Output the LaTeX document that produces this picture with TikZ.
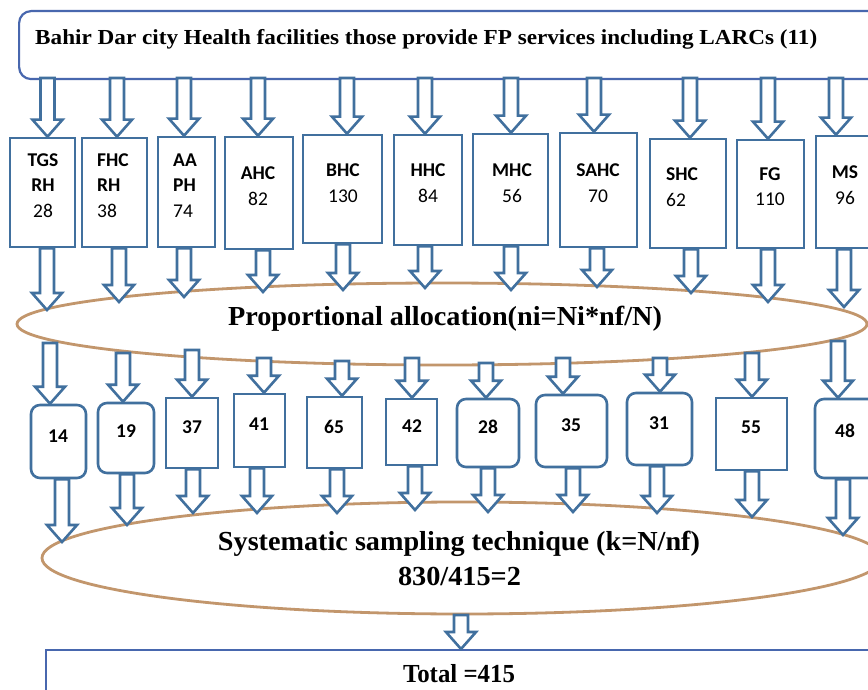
\documentclass[tikz,border=0pt]{standalone}
\usepackage{fontspec}
\setmainfont{Liberation Serif}
\newfontfamily\carl{Carlito}
\usetikzlibrary{shapes.geometric,calc}
\definecolor{arrblue}{HTML}{41709E}
\definecolor{frameblue}{HTML}{4867AE}
\definecolor{elltan}{HTML}{C2966C}
\newcommand{\wfit}[2]{\resizebox{#1}{\height}{#2}}
\tikzset{
  barrow/.style={draw=arrblue, line width=2.6pt, fill=white, line join=miter,
    to path={let \p1=(\tikztostart), \p2=(\tikztotarget) in
      (\x1-7pt,\y1) -- (\x1-7pt,\y2+17pt) -- (\x1-15pt,\y2+17pt) -- (\x1,\y2)
      -- (\x1+15pt,\y2+17pt) -- (\x1+7pt,\y2+17pt) -- (\x1+7pt,\y1) -- cycle}},
  fbox/.style={draw=arrblue, line width=2.6pt, fill=white, inner sep=0pt},
  rbox/.style={fbox, rounded corners=9pt},
  ell/.style={ellipse, draw=elltan, line width=2.8pt, fill=white, inner sep=0pt},
  lbl/.style={font=\carl\fontsize{19.5}{25.5}\selectfont, inner sep=0pt, text=black},
  nlbl/.style={font=\carl\bfseries\fontsize{19.5}{25}\selectfont, inner sep=0pt, text=black},
  serif/.style={font=\bfseries\fontsize{27.5}{30}\selectfont, inner sep=0pt, anchor=base},
}
\begin{document}
\begin{tikzpicture}[x=1pt,y=-1pt]
\useasboundingbox (0,0) rectangle (868,690);
\clip (0,0) rectangle (868,690);
\fill[white] (0,0) rectangle (868,690);

% top box
\node[draw=frameblue, line width=2.2pt, rounded corners=12pt, minimum width=890pt,
      minimum height=68pt, inner sep=0pt, anchor=north west, fill=white] (top) at (18,10) {};
\node[font=\bfseries\fontsize{21.4}{24}\selectfont, inner sep=0pt, anchor=base west] (toptxt) at (35,45)
  {\wfit{782pt}{Bahir Dar city Health facilities those provide FP services including LARCs (11)}};

% ellipses
\node[ell, minimum width=850pt, minimum height=82pt] (e1) at (442,324) {};
\node[ell, minimum width=840pt, minimum height=112pt] (e2) at (462,558) {};

% first row boxes
\node[fbox, minimum width=65pt, minimum height=109pt] (t1) at (42.5,192.5) {};
\node[fbox, minimum width=65pt, minimum height=109pt] (t2) at (114.5,192.5) {};
\node[fbox, minimum width=57pt, minimum height=110pt] (t3) at (186.5,192) {};
\node[fbox, minimum width=68pt, minimum height=112pt] (t4) at (259,193) {};
\node[fbox, minimum width=79pt, minimum height=108pt] (t5) at (342.5,189) {};
\node[fbox, minimum width=68pt, minimum height=110pt] (t6) at (428,190) {};
\node[fbox, minimum width=75pt, minimum height=111pt] (t7) at (510.5,189.5) {};
\node[fbox, minimum width=77pt, minimum height=114pt] (t8) at (598.5,190) {};
\node[fbox, minimum width=76pt, minimum height=109pt] (t9) at (688,193.5) {};
\node[fbox, minimum width=67pt, minimum height=108pt] (t10) at (770.5,194) {};
\node[fbox, minimum width=70pt, minimum height=112pt] (t11) at (851,192) {};

\node[lbl, align=center] (l1) at (43,185.5) {\textbf{TGS}\\\textbf{RH}\\28};
\node[lbl, align=left, anchor=west] (l2) at (97,185.5) {\textbf{FHC}\\\textbf{RH}\\38};
\node[lbl, align=left, anchor=west] (l3) at (173,185.5) {\textbf{AA}\\\textbf{PH}\\74};
\node[lbl, align=center] (l4) at (258,186) {\textbf{AHC}\\82};
\node[lbl, align=center] (l5) at (343,183) {\textbf{BHC}\\130};
\node[lbl, align=center] (l6) at (428,183) {\textbf{HHC}\\84};
\node[lbl, align=center] (l7) at (512,183) {\textbf{MHC}\\56};
\node[lbl, align=center] (l8) at (598,183) {\textbf{SAHC}\\70};
\node[lbl, align=left, anchor=west] (l9) at (666,187) {\textbf{SHC}\\62};
\node[lbl, align=center] (l10) at (770,186.5) {\textbf{FG}\\110};
\node[lbl, align=center] (l11) at (845,185) {\textbf{MS}\\96};

% second row boxes
\node[rbox, minimum width=55pt, minimum height=73pt] (n1) at (58.5,441.5) {};
\node[rbox, minimum width=56pt, minimum height=70pt] (n2) at (126,438) {};
\node[fbox, minimum width=52pt, minimum height=70pt] (n3) at (192,433) {};
\node[fbox, minimum width=51pt, minimum height=73pt] (n4) at (259.5,430.5) {};
\node[fbox, minimum width=55pt, minimum height=71pt] (n5) at (334.5,432.5) {};
\node[fbox, minimum width=51pt, minimum height=66pt] (n6) at (411.5,432) {};
\node[rbox, minimum width=62pt, minimum height=68pt] (n7) at (488,433) {};
\node[rbox, minimum width=71pt, minimum height=72pt] (n8) at (571.5,431) {};
\node[rbox, minimum width=65pt, minimum height=72pt] (n9) at (659.5,429) {};
\node[fbox, minimum width=71pt, minimum height=72pt] (n10) at (751.5,434) {};
\node[rbox, minimum width=62pt, minimum height=79pt] (n11) at (846,438.5) {};

\node[nlbl] (m1) at (58,436) {14};
\node[nlbl] (m2) at (126,431) {19};
\node[nlbl] (m3) at (192,427) {37};
\node[nlbl] (m4) at (259,424) {41};
\node[nlbl] (m5) at (334,427) {65};
\node[nlbl] (m6) at (412,426) {42};
\node[nlbl] (m7) at (488,427) {28};
\node[nlbl] (m8) at (571,425) {35};
\node[nlbl] (m9) at (659,423) {31};
\node[nlbl] (m10) at (751,427) {55};
\node[nlbl] (m11) at (845,431) {48};

% total box
\node[draw=frameblue, line width=2.4pt, minimum width=900pt, minimum height=80pt,
      inner sep=0pt, anchor=north west, fill=white] (total) at (45,649) {};
\node[font=\bfseries\fontsize{26}{28}\selectfont, inner sep=0pt, anchor=base] (totaltxt) at (459,682)
  {\wfit{112pt}{Total =415}};

% ellipse texts
\node[serif] (e1txt) at (445,325) {\wfit{434pt}{Proportional allocation(ni=Ni*nf/N)}};
\node[serif] (e2txt1) at (459,550) {\wfit{482pt}{Systematic sampling technique (k=N/nf)}};
\node[serif] (e2txt2) at (459.5,585) {\wfit{123pt}{830/415=2}};

% coordinates for arrows
\foreach \i/\x in {1/47.5,2/117,3/184,4/258,5/347,6/425,7/511,8/594,9/690,10/768,11/836}
  \coordinate (a\i) at (\x,78);
\foreach \i/\x/\y in {1/47/310,2/119/302,3/184/297,4/263/292,5/343/290,6/425/288,7/511/290,8/597/287,9/691/293,10/768/302,11/844/307}
  \coordinate (b\i) at (\x,\y);
\foreach \i/\x/\y in {1/50/343,2/123/353,3/192/350,4/264/358,5/342/361,6/412/358,7/486/363,8/563/358,9/660/358,10/752/353,11/838/341}
  \coordinate (c\i) at (\x,\y);
\foreach \i/\x/\y in {1/62/542,2/127/525,3/193/513,4/257/513,5/337/513,6/415/510,7/488/512,8/573/512,9/657/513,10/752/517,11/843/535}
  \coordinate (d\i) at (\x,\y);
\coordinate (f1) at (461,615);

% arrows
\foreach \i in {1,...,11} {
  \draw[barrow] (a\i) to (a\i |- t\i.north);
  \draw[barrow] (b\i |- t\i.south) to (b\i);
  \draw[barrow] (c\i) to (c\i |- n\i.north);
  \draw[barrow] (d\i |- n\i.south) to (d\i);
}
\draw[barrow] (f1) to (f1 |- total.north);
\end{tikzpicture}
\end{document}
